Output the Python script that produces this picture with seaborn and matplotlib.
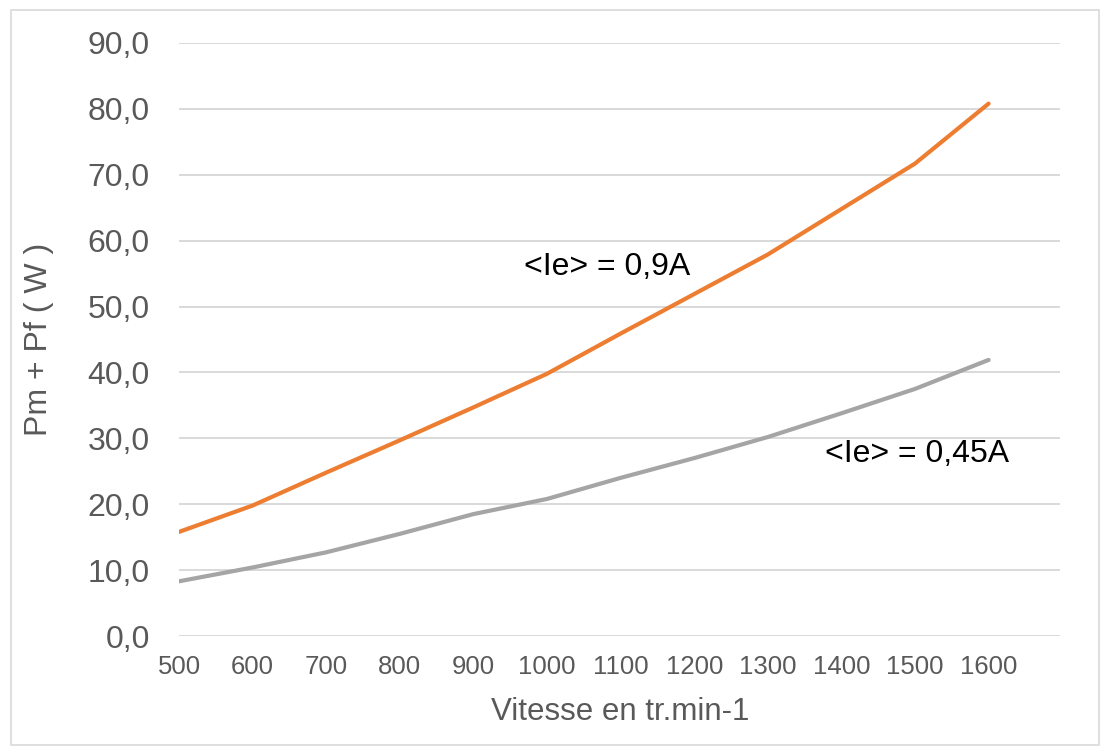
import numpy as np
import pandas as pd
import matplotlib
matplotlib.use("Agg")
import matplotlib.pyplot as plt
import seaborn as sns
from matplotlib.patches import Rectangle

sns.set_style("white")
plt.rcParams["font.family"] = ["Liberation Sans", "DejaVu Sans"]

vitesse = [500, 600, 700, 800, 900, 1000, 1100, 1200, 1300, 1400, 1500, 1600]
p_09 = [15.8, 19.8, 24.8, 29.7, 34.7, 39.8, 45.9, 51.9, 57.9, 64.8, 71.7, 80.8]
p_045 = [8.3, 10.4, 12.7, 15.5, 18.5, 20.8, 24.0, 27.0, 30.2, 33.8, 37.5, 41.9]
series = ["<Ie> = 0,9A", "<Ie> = 0,45A"]
colors = ["#ED7D31", "#A5A5A5"]
yticks = [0, 10, 20, 30, 40, 50, 60, 70, 80, 90]

df = pd.DataFrame({
    "vitesse": vitesse * 2,
    "p": p_09 + p_045,
    "serie": [series[0]] * len(vitesse) + [series[1]] * len(vitesse),
})

fig = plt.figure(figsize=(11.1, 7.52), dpi=100)
ax = fig.add_axes([179 / 1110, 1 - 636 / 752, (1060 - 179) / 1110, (636 - 43) / 752])

sns.lineplot(data=df, x="vitesse", y="p", hue="serie", palette=colors,
             linewidth=3.0, ax=ax, legend=False, sort=False)

grey = "#595959"

ax.set_xlim(500, 1697)
ax.set_ylim(0, 90)
ax.set_xticks(vitesse)
ax.set_xticklabels([str(v) for v in vitesse], fontsize=18.5, color=grey)
ax.set_yticks(yticks)
ax.set_yticklabels(["%d,0" % v for v in yticks], fontsize=23, color=grey)
ax.tick_params(axis="x", length=0, pad=14)
ax.tick_params(axis="y", length=0, pad=21)
ax.yaxis.grid(True, color="#D9D9D9", linewidth=1.4)
ax.set_axisbelow(True)
for s in ax.spines.values():
    s.set_visible(False)

ax.set_xlabel("Vitesse en tr.min-1", fontsize=22.5, color=grey, va="center")
ax.xaxis.set_label_coords(0.5006, -0.128)
ax.set_ylabel("Pm + Pf ( W )", fontsize=23, color=grey, va="center")
ax.yaxis.set_label_coords(-0.159, 0.5)

ax.text(969, 56.0, series[0], fontsize=23, color="black", va="center", ha="left")
ax.text(1378, 27.6, series[1], fontsize=23, color="black", va="center", ha="left")

fig.patches.append(Rectangle((11 / 1110, 1 - 745 / 752), 1088 / 1110, 735 / 752,
                             transform=fig.transFigure, fill=False,
                             edgecolor="#D9D9D9", linewidth=1.2))

fig.savefig("out.png", dpi=100)
